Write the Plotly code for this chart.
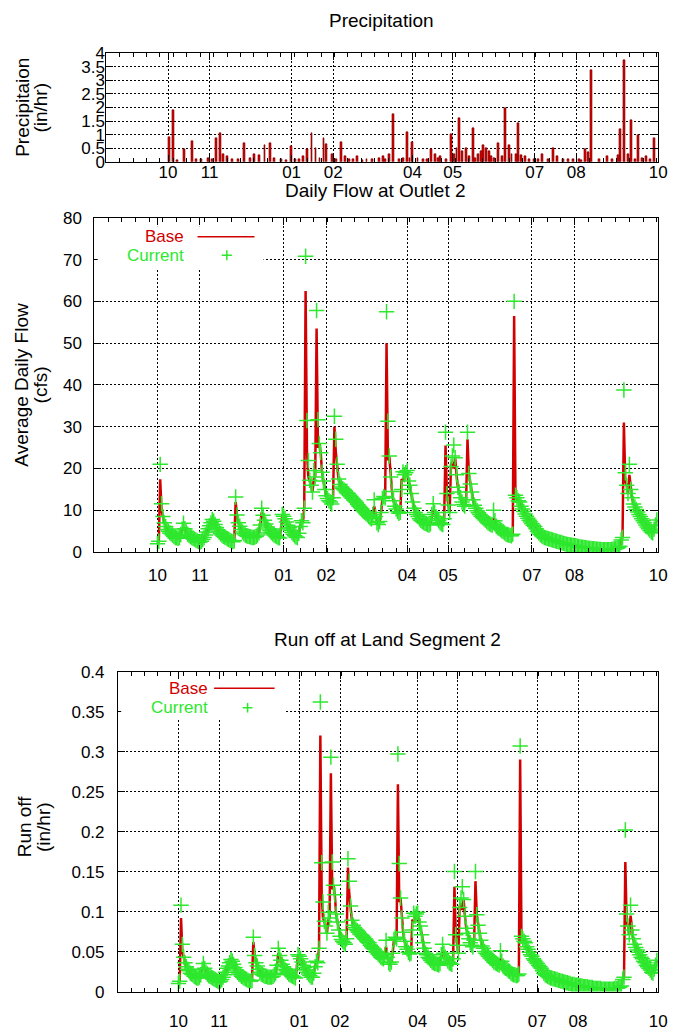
import pandas as pd
import plotly.graph_objects as go

# ---------------- data ----------------
start_date = "2004-10-01"          # first simulated day (daily values)
x_range = ["2004-08-16", "2005-10-01"]

tick_dates = ["2004-10-01", "2004-11-01", "2005-01-01", "2005-02-01", "2005-04-01",
              "2005-05-01", "2005-07-01", "2005-08-01", "2005-10-01"]
tick_text = ["10", "11", "01", "02", "04", "05", "07", "08", "10"]

precip_dates = ["2004-10-02", "2004-10-05", "2004-10-13", "2004-10-19", "2004-10-26", "2004-10-31",
                "2004-11-06", "2004-11-09", "2004-11-11", "2004-11-18", "2004-11-27", "2004-12-04",
                "2004-12-08", "2004-12-12", "2004-12-16", "2004-12-24", "2005-01-01", "2005-01-07",
                "2005-01-13", "2005-01-16", "2005-01-19", "2005-01-25", "2005-01-27", "2005-01-31",
                "2005-02-07", "2005-02-13", "2005-02-19", "2005-02-26", "2005-03-07", "2005-03-15",
                "2005-03-18", "2005-03-22", "2005-03-28", "2005-03-30", "2005-04-01", "2005-04-09",
                "2005-04-15", "2005-04-22", "2005-04-26", "2005-04-30", "2005-05-06", "2005-05-08",
                "2005-05-11", "2005-05-16", "2005-05-20", "2005-05-24", "2005-05-26", "2005-05-28",
                "2005-06-04", "2005-06-09", "2005-06-12", "2005-06-14", "2005-06-19", "2005-06-24",
                "2005-07-01", "2005-07-07", "2005-07-15", "2005-07-22", "2005-07-30", "2005-08-08",
                "2005-08-12", "2005-08-24", "2005-09-03", "2005-09-06", "2005-09-11", "2005-09-16",
                "2005-09-22", "2005-09-28",
                "2004-10-08", "2004-10-22", "2004-11-03", "2004-11-14", "2004-11-22", "2004-12-01",
                "2004-12-19", "2004-12-28", "2005-01-04", "2005-01-10", "2005-01-22", "2005-02-03",
                "2005-02-10", "2005-02-16", "2005-02-23", "2005-03-02", "2005-03-10", "2005-03-12",
                "2005-03-25", "2005-04-05", "2005-04-12", "2005-04-18", "2005-04-20", "2005-05-02",
                "2005-05-04", "2005-05-13", "2005-05-18", "2005-05-22", "2005-05-30", "2005-06-01",
                "2005-06-07", "2005-06-17", "2005-06-21", "2005-06-27", "2005-07-04", "2005-07-11",
                "2005-07-18", "2005-07-26", "2005-08-03", "2005-08-05", "2005-08-10", "2005-08-18",
                "2005-08-28", "2005-09-01", "2005-09-09", "2005-09-14", "2005-09-19", "2005-09-25"]
precip_vals = [0.9, 1.9, 0.46, 0.75, 0.1, 0.15,
               0.88, 1.05, 0.3, 0.1, 0.7, 0.3,
               0.25, 0.6, 0.7, 0.1, 0.58, 0.1,
               0.48, 1.05, 0.5, 0.88, 0.65, 0.3,
               0.72, 0.1, 0.2, 0.1, 0.15, 0.3,
               1.75, 0.1, 1.08, 0.15, 0.72, 0.1,
               0.48, 0.2, 0.1, 1.03, 1.62, 0.4,
               0.5, 1.24, 0.3, 0.6, 0.5, 0.4,
               0.7, 1.97, 0.6, 0.3, 1.44, 0.2,
               0.1, 0.3, 0.52, 0.1, 0.1, 0.45,
               3.38, 0.2, 1.2, 3.76, 1.54, 0.98,
               0.2, 0.88,
               0.05, 0.08, 0.1, 0.2, 0.08, 0.12,
               0.15, 0.05, 0.08, 0.2, 0.15, 0.1,
               0.2, 0.08, 0.05, 0.1, 0.2, 0.1,
               0.15, 0.15, 0.1, 0.3, 0.15, 0.3,
               0.5, 0.2, 0.15, 0.4, 0.2, 0.15,
               0.2, 0.3, 0.25, 0.1, 0.1, 0.1,
               0.2, 0.1, 0.1, 0.05, 0.35, 0.08,
               0.1, 0.25, 0.3, 0.1, 0.15, 0.1]

flow_current = [2.0, 2.6, 21, 11.6, 8.5, 7, 6.1, 5.4, 5, 4.6,
                4.4, 4.1, 3.8, 3.5, 3.4, 3.3, 3.5, 4.2, 5.5, 6.9,
                5.6, 4.8, 4.3, 4, 3.7, 3.5, 3.3, 3.1, 2.9, 2.7,
                2.5, 2.4, 2.6, 3, 3.5, 4.1, 4.8, 5.6, 6.3, 7,
                7.8, 7.4, 6.6, 5.9, 5.3, 4.8, 4.4, 4.1, 3.8, 3.6,
                3.4, 3.2, 3, 2.8, 2.6, 2.5, 2.7, 13.2, 8.9, 7,
                6.2, 5.4, 4.8, 4.4, 4.1, 3.9, 3.8, 3.7, 3.6, 3.5,
                3.5, 3.6, 3.8, 4.1, 4.6, 6.5, 10.5, 8.8, 7.6, 6.7,
                6, 5.5, 5.1, 4.7, 4.4, 4.1, 3.9, 3.7, 3.5, 3.4,
                5.5, 9, 8.6, 8, 7.2, 6.4, 5.8, 5.2, 4.7, 4.3,
                3.9, 3.6, 3.5, 4.5, 6.1, 7.5, 7, 10.5, 70.8, 31.5,
                21.9, 17.2, 16, 14.4, 19.5, 18, 57.8, 31.7, 26, 23.8,
                19.1, 17, 15, 13.5, 12.8, 12.3, 12, 11.5, 13, 32.5,
                27, 21, 17.5, 16.2, 15.6, 15.2, 14.9, 14.6, 14.2, 14,
                13.6, 13.3, 12.9, 12.6, 12.2, 11.9, 11.4, 11, 10.6, 10.3,
                9.9, 9.6, 9.2, 8.9, 8.5, 8.2, 8, 9, 12.5, 8.5,
                7, 6.6, 7.3, 9.5, 12.8, 13.3, 13, 57.5, 31.3, 23,
                18, 14.5, 12.3, 11, 10.3, 9.7, 9.3, 9.5, 15, 19.2,
                18.5, 19, 19.5, 17, 16, 14, 12, 10.5, 9.5, 9,
                8.5, 8, 7.6, 7.3, 7.1, 6.9, 6.8, 6.6, 6.5, 6.8,
                9, 11.6, 9.5, 8.5, 8, 7.5, 7, 6.8, 6.6, 8,
                28.7, 14, 11.3, 9.5, 20.5, 23, 25.6, 22.6, 18.5, 15.5,
                14.4, 13, 12, 11.4, 11, 12.5, 28.7, 18.8, 16.3, 14.4,
                12.5, 11.2, 10.5, 9.9, 9.4, 9, 8.6, 8.3, 8, 7.7,
                7.3, 7, 6.8, 6.6, 6.5, 10, 7.5, 6.2, 5.9, 5.7,
                5.4, 5.1, 4.9, 4.6, 4.3, 4.2, 4.1, 4, 3.9, 4.3,
                60, 13.6, 13, 12.3, 12, 11, 10.3, 9.7, 9.1, 8.6,
                8.1, 7.6, 7.2, 6.8, 6.4, 6.1, 5.6, 5, 4.6, 4.2,
                3.9, 3.7, 3.5, 3.4, 3.3, 3.2, 3.1, 3, 2.9, 2.8,
                2.7, 2.6, 2.5, 2.4, 2.3, 2.2, 2.1, 2, 1.9, 1.85,
                1.8, 1.7, 1.65, 1.6, 1.5, 1.45, 1.4, 1.3, 1.25, 1.2,
                1.15, 1.1, 1.05, 1, 0.95, 0.9, 0.85, 0.8, 0.8, 0.75,
                0.7, 0.7, 0.65, 0.65, 0.6, 0.6, 0.6, 0.6, 0.55, 0.6,
                0.6, 0.65, 0.7, 0.75, 0.8, 0.9, 1.1, 1.4, 2.9, 3.5,
                38.8, 19, 16, 14, 21, 15, 13, 11.5, 10.8, 10.2,
                9.6, 9, 8.5, 8, 7.5, 7, 6.5, 6, 5.6, 5.2,
                4.8, 4.6, 5.5, 6.5, 7.7]

flow_base = [2.0, 2.6, 17.4, 10, 8.5, 7, 6.1, 5.4, 5, 4.6,
             4.4, 4.1, 3.8, 3.5, 3.4, 3.3, 3.5, 4.2, 5.5, 5.8,
             5.6, 4.8, 4.3, 4, 3.7, 3.5, 3.3, 3.1, 2.9, 2.7,
             2.5, 2.4, 2.6, 3, 3.5, 4.1, 4.8, 5.6, 6.3, 7,
             7.8, 7.4, 6.6, 5.9, 5.3, 4.8, 4.4, 4.1, 3.8, 3.6,
             3.4, 3.2, 3, 2.8, 2.6, 2.5, 2.7, 12, 8.9, 7,
             6.2, 5.4, 4.8, 4.4, 4.1, 3.9, 3.8, 3.7, 3.6, 3.5,
             3.5, 3.6, 3.8, 4.1, 4.6, 6.5, 9.5, 8.8, 7.6, 6.7,
             6, 5.5, 5.1, 4.7, 4.4, 4.1, 3.9, 3.7, 3.5, 3.4,
             5.5, 9, 8.6, 8, 7.2, 6.4, 5.8, 5.2, 4.7, 4.3,
             3.9, 3.6, 3.5, 4.5, 6.1, 7.5, 7, 10.5, 62.5, 24,
             18, 17.2, 16, 14.4, 17.5, 18, 53.5, 25, 26, 23.8,
             19.1, 17, 15, 13.5, 12.8, 12.3, 12, 11.5, 13, 30,
             24, 21, 17.5, 16.2, 15.6, 15.2, 14.9, 14.6, 14.2, 14,
             13.6, 13.3, 12.9, 12.6, 12.2, 11.9, 11.4, 11, 10.6, 10.3,
             9.9, 9.6, 9.2, 8.9, 8.5, 8.2, 8, 9, 11, 8.5,
             7, 6.6, 7.3, 9.5, 12.8, 13.3, 13, 50, 22, 23,
             18, 14.5, 12.3, 11, 10.3, 9.7, 9.3, 9.5, 17.5, 17,
             18.5, 19, 19.5, 17, 16, 14, 12, 10.5, 9.5, 9,
             8.5, 8, 7.6, 7.3, 7.1, 6.9, 6.8, 6.6, 6.5, 6.8,
             9, 10, 9.5, 8.5, 8, 7.5, 7, 6.8, 6.6, 8,
             25.5, 14, 11.3, 9.5, 21, 21.5, 20, 22.6, 18.5, 15.5,
             14.4, 13, 12, 11.4, 11, 12.5, 27, 18.8, 16.3, 14.4,
             12.5, 11.2, 10.5, 9.9, 9.4, 9, 8.6, 8.3, 8, 7.7,
             7.3, 7, 6.8, 6.6, 6.5, 8, 7.5, 6.2, 5.9, 5.7,
             5.4, 5.1, 4.9, 4.6, 4.3, 4.2, 4.1, 4, 3.9, 4.3,
             56.5, 12, 13, 12.3, 12, 11, 10.3, 9.7, 9.1, 8.6,
             8.1, 7.6, 7.2, 6.8, 6.4, 6.1, 5.6, 5, 4.6, 4.2,
             3.9, 3.7, 3.5, 3.4, 3.3, 3.2, 3.1, 3, 2.9, 2.8,
             2.7, 2.6, 2.5, 2.4, 2.3, 2.2, 2.1, 2, 1.9, 1.85,
             1.8, 1.7, 1.65, 1.6, 1.5, 1.45, 1.4, 1.3, 1.25, 1.2,
             1.15, 1.1, 1.05, 1, 0.95, 0.9, 0.85, 0.8, 0.8, 0.75,
             0.7, 0.7, 0.65, 0.65, 0.6, 0.6, 0.6, 0.6, 0.55, 0.6,
             0.6, 0.65, 0.7, 0.75, 0.8, 0.9, 1.1, 1.4, 2.9, 3.5,
             31, 17, 16, 14, 18.5, 15, 13, 11.5, 10.8, 10.2,
             9.6, 9, 8.5, 8, 7.5, 7, 6.5, 6, 5.6, 5.2,
             4.8, 4.6, 5.5, 6.5, 7.7]

runoff_current = [0.010, 0.013, 0.108, 0.059, 0.043, 0.036, 0.031, 0.028, 0.026, 0.023,
                  0.022, 0.021, 0.019, 0.018, 0.017, 0.017, 0.018, 0.021, 0.028, 0.035,
                  0.029, 0.024, 0.022, 0.020, 0.019, 0.018, 0.017, 0.016, 0.015, 0.014,
                  0.013, 0.012, 0.013, 0.015, 0.018, 0.021, 0.024, 0.029, 0.032, 0.036,
                  0.040, 0.038, 0.034, 0.030, 0.027, 0.024, 0.022, 0.021, 0.019, 0.018,
                  0.017, 0.016, 0.015, 0.014, 0.013, 0.013, 0.014, 0.068, 0.045, 0.036,
                  0.032, 0.028, 0.024, 0.022, 0.021, 0.020, 0.019, 0.019, 0.018, 0.018,
                  0.018, 0.018, 0.019, 0.021, 0.023, 0.033, 0.054, 0.045, 0.039, 0.034,
                  0.031, 0.028, 0.026, 0.024, 0.022, 0.021, 0.020, 0.019, 0.018, 0.017,
                  0.028, 0.046, 0.044, 0.041, 0.037, 0.033, 0.030, 0.027, 0.024, 0.022,
                  0.020, 0.018, 0.018, 0.023, 0.031, 0.038, 0.036, 0.054, 0.362, 0.161,
                  0.112, 0.088, 0.082, 0.073, 0.099, 0.092, 0.293, 0.162, 0.133, 0.121,
                  0.097, 0.087, 0.077, 0.069, 0.065, 0.063, 0.061, 0.059, 0.066, 0.166,
                  0.138, 0.107, 0.089, 0.083, 0.080, 0.078, 0.076, 0.074, 0.072, 0.071,
                  0.069, 0.068, 0.066, 0.064, 0.062, 0.061, 0.058, 0.056, 0.054, 0.053,
                  0.050, 0.049, 0.047, 0.045, 0.043, 0.042, 0.041, 0.046, 0.064, 0.043,
                  0.036, 0.034, 0.037, 0.048, 0.065, 0.068, 0.066, 0.297, 0.160, 0.117,
                  0.092, 0.074, 0.063, 0.056, 0.053, 0.049, 0.047, 0.048, 0.077, 0.098,
                  0.094, 0.097, 0.099, 0.087, 0.082, 0.071, 0.061, 0.054, 0.048, 0.046,
                  0.043, 0.041, 0.039, 0.037, 0.036, 0.035, 0.035, 0.034, 0.033, 0.035,
                  0.046, 0.059, 0.048, 0.043, 0.041, 0.038, 0.036, 0.035, 0.034, 0.041,
                  0.150, 0.071, 0.058, 0.048, 0.105, 0.117, 0.131, 0.115, 0.094, 0.079,
                  0.073, 0.066, 0.061, 0.058, 0.056, 0.064, 0.150, 0.096, 0.083, 0.073,
                  0.064, 0.057, 0.054, 0.050, 0.048, 0.046, 0.044, 0.042, 0.041, 0.039,
                  0.037, 0.036, 0.035, 0.034, 0.033, 0.051, 0.038, 0.032, 0.030, 0.029,
                  0.028, 0.026, 0.025, 0.023, 0.022, 0.021, 0.021, 0.020, 0.020, 0.022,
                  0.307, 0.069, 0.066, 0.063, 0.061, 0.056, 0.053, 0.049, 0.046, 0.044,
                  0.041, 0.039, 0.037, 0.035, 0.033, 0.031, 0.029, 0.026, 0.023, 0.021,
                  0.020, 0.019, 0.018, 0.017, 0.017, 0.016, 0.016, 0.015, 0.015, 0.014,
                  0.014, 0.013, 0.013, 0.012, 0.012, 0.011, 0.011, 0.010, 0.010, 0.009,
                  0.009, 0.009, 0.008, 0.008, 0.008, 0.007, 0.007, 0.007, 0.006, 0.006,
                  0.006, 0.006, 0.005, 0.005, 0.005, 0.005, 0.004, 0.004, 0.004, 0.004,
                  0.004, 0.004, 0.003, 0.003, 0.003, 0.003, 0.003, 0.003, 0.003, 0.003,
                  0.003, 0.003, 0.004, 0.004, 0.004, 0.005, 0.006, 0.007, 0.015, 0.018,
                  0.202, 0.097, 0.082, 0.071, 0.108, 0.077, 0.066, 0.059, 0.055, 0.052,
                  0.049, 0.046, 0.043, 0.041, 0.038, 0.036, 0.033, 0.031, 0.029, 0.027,
                  0.024, 0.023, 0.028, 0.033, 0.039]

runoff_base = [0.010, 0.013, 0.092, 0.051, 0.043, 0.036, 0.031, 0.028, 0.026, 0.023,
               0.022, 0.021, 0.019, 0.018, 0.017, 0.017, 0.018, 0.021, 0.028, 0.030,
               0.029, 0.024, 0.022, 0.020, 0.019, 0.018, 0.017, 0.016, 0.015, 0.014,
               0.013, 0.012, 0.013, 0.015, 0.018, 0.021, 0.024, 0.029, 0.032, 0.036,
               0.040, 0.038, 0.034, 0.030, 0.027, 0.024, 0.022, 0.021, 0.019, 0.018,
               0.017, 0.016, 0.015, 0.014, 0.013, 0.013, 0.014, 0.062, 0.045, 0.036,
               0.032, 0.028, 0.024, 0.022, 0.021, 0.020, 0.019, 0.019, 0.018, 0.018,
               0.018, 0.018, 0.019, 0.021, 0.023, 0.033, 0.048, 0.045, 0.039, 0.034,
               0.031, 0.028, 0.026, 0.024, 0.022, 0.021, 0.020, 0.019, 0.018, 0.017,
               0.028, 0.046, 0.044, 0.041, 0.037, 0.033, 0.030, 0.027, 0.024, 0.022,
               0.020, 0.018, 0.018, 0.023, 0.031, 0.038, 0.036, 0.054, 0.320, 0.122,
               0.092, 0.088, 0.082, 0.073, 0.089, 0.092, 0.273, 0.128, 0.133, 0.121,
               0.097, 0.087, 0.077, 0.069, 0.065, 0.063, 0.061, 0.059, 0.066, 0.155,
               0.122, 0.107, 0.089, 0.083, 0.080, 0.078, 0.076, 0.074, 0.072, 0.071,
               0.069, 0.068, 0.066, 0.064, 0.062, 0.061, 0.058, 0.056, 0.054, 0.053,
               0.050, 0.049, 0.047, 0.045, 0.043, 0.042, 0.041, 0.046, 0.056, 0.043,
               0.036, 0.034, 0.037, 0.048, 0.065, 0.068, 0.066, 0.259, 0.112, 0.117,
               0.092, 0.074, 0.063, 0.056, 0.053, 0.049, 0.047, 0.048, 0.090, 0.087,
               0.094, 0.097, 0.099, 0.087, 0.082, 0.071, 0.061, 0.054, 0.048, 0.046,
               0.043, 0.041, 0.039, 0.037, 0.036, 0.035, 0.035, 0.034, 0.033, 0.035,
               0.046, 0.051, 0.048, 0.043, 0.041, 0.038, 0.036, 0.035, 0.034, 0.041,
               0.131, 0.071, 0.058, 0.048, 0.107, 0.110, 0.102, 0.115, 0.094, 0.079,
               0.073, 0.066, 0.061, 0.058, 0.056, 0.064, 0.138, 0.096, 0.083, 0.073,
               0.064, 0.057, 0.054, 0.050, 0.048, 0.046, 0.044, 0.042, 0.041, 0.039,
               0.037, 0.036, 0.035, 0.034, 0.033, 0.041, 0.038, 0.032, 0.030, 0.029,
               0.028, 0.026, 0.025, 0.023, 0.022, 0.021, 0.021, 0.020, 0.020, 0.022,
               0.290, 0.061, 0.066, 0.063, 0.061, 0.056, 0.053, 0.049, 0.046, 0.044,
               0.041, 0.039, 0.037, 0.035, 0.033, 0.031, 0.029, 0.026, 0.023, 0.021,
               0.020, 0.019, 0.018, 0.017, 0.017, 0.016, 0.016, 0.015, 0.015, 0.014,
               0.014, 0.013, 0.013, 0.012, 0.012, 0.011, 0.011, 0.010, 0.010, 0.009,
               0.009, 0.009, 0.008, 0.008, 0.008, 0.007, 0.007, 0.007, 0.006, 0.006,
               0.006, 0.006, 0.005, 0.005, 0.005, 0.005, 0.004, 0.004, 0.004, 0.004,
               0.004, 0.004, 0.003, 0.003, 0.003, 0.003, 0.003, 0.003, 0.003, 0.003,
               0.003, 0.003, 0.004, 0.004, 0.004, 0.005, 0.006, 0.007, 0.015, 0.018,
               0.162, 0.087, 0.082, 0.071, 0.095, 0.077, 0.066, 0.059, 0.055, 0.052,
               0.049, 0.046, 0.043, 0.041, 0.038, 0.036, 0.033, 0.031, 0.029, 0.027,
               0.024, 0.023, 0.028, 0.033, 0.039]

precip_yticks = [0, 0.5, 1, 1.5, 2, 2.5, 3, 3.5, 4]
precip_ytext = ["0", "0.5", "1", "1.5", "2", "2.5", "3", "3.5", "4"]
flow_yticks = [0, 10, 20, 30, 40, 50, 60, 70, 80]
flow_ytext = ["0", "10", "20", "30", "40", "50", "60", "70", "80"]
runoff_yticks = [0, 0.05, 0.1, 0.15, 0.2, 0.25, 0.3, 0.35, 0.4]
runoff_ytext = ["0", "0.05", "0.1", "0.15", "0.2", "0.25", "0.3", "0.35", "0.4"]

dates = pd.date_range(start_date, periods=len(flow_current), freq="D")

# ---------------- style ----------------
W, H = 681, 1032
FONT = "Liberation Sans, Arial, Helvetica, sans-serif"
RED = "rgb(210,0,0)"
GREEN = "rgb(45,232,45)"
DAY_MS = 86400000
TICK_SIZE = 17


def px_x(p):
    return p / W


def px_y(p):
    return 1 - p / H


def x_axis(dom, anchor, standoff):
    return dict(domain=dom, anchor=anchor, type="date", range=x_range,
                tickmode="array", tickvals=tick_dates, ticktext=tick_text,
                ticks="inside", ticklen=7, tickcolor="black", tickwidth=1,
                showline=True, linecolor="black", linewidth=1, mirror="ticks",
                showgrid=True, gridcolor="black", gridwidth=1, griddash="2px,2px",
                zeroline=False, ticklabelstandoff=standoff,
                tickfont=dict(family=FONT, size=TICK_SIZE, color="black"),
                minor=dict(ticks="inside", ticklen=4, tickcolor="black",
                           dtick=10 * DAY_MS, tick0="2004-08-16", showgrid=False))


def y_axis(dom, anchor, rng, vals, text, standoff):
    return dict(domain=dom, anchor=anchor, range=rng, tickmode="array",
                tickvals=vals, ticktext=text,
                ticks="inside", ticklen=7, tickcolor="black",
                showline=True, linecolor="black", linewidth=1, mirror="ticks",
                showgrid=True, gridcolor="black", gridwidth=1, griddash="2px,2px",
                zeroline=False, ticklabelstandoff=standoff,
                tickfont=dict(family=FONT, size=TICK_SIZE, color="black"))


fig = go.Figure()

fig.add_trace(go.Bar(x=precip_dates, y=precip_vals, xaxis="x", yaxis="y",
                     width=1.4 * DAY_MS,
                     marker=dict(color="rgb(220,0,0)", line=dict(color="rgb(110,0,0)", width=0.6)),
                     showlegend=False))

fig.add_trace(go.Scatter(x=dates, y=flow_base, xaxis="x2", yaxis="y2", mode="lines",
                         line=dict(color=RED, width=2.5), name="Base", showlegend=False))
fig.add_trace(go.Scatter(x=dates, y=flow_current, xaxis="x2", yaxis="y2", mode="markers",
                         marker=dict(symbol="cross-thin", size=11, line=dict(color=GREEN, width=1.5)),
                         name="Current", showlegend=False))

fig.add_trace(go.Scatter(x=dates, y=runoff_base, xaxis="x3", yaxis="y3", mode="lines",
                         line=dict(color=RED, width=2.5), name="Base", showlegend=False))
fig.add_trace(go.Scatter(x=dates, y=runoff_current, xaxis="x3", yaxis="y3", mode="markers",
                         marker=dict(symbol="cross-thin", size=11, line=dict(color=GREEN, width=1.5)),
                         name="Current", showlegend=False))

# panel geometry (pixels)
p_dom_x = [px_x(107.7), px_x(667)]
p_dom_y = [px_y(155.7), px_y(45)]
f_dom_x = [px_x(95.6), px_x(667)]
f_dom_y = [px_y(553.3), px_y(212.7)]
r_dom_x = [px_x(119.5), px_x(667)]
r_dom_y = [px_y(1001), px_y(675)]

fig.update_layout(
    width=W, height=H, margin=dict(l=0, r=0, t=0, b=0),
    paper_bgcolor="white", plot_bgcolor="white", showlegend=False, bargap=0,
    xaxis=x_axis(p_dom_x, "y", -5),
    yaxis=y_axis(p_dom_y, "x", [0, 4], precip_yticks, precip_ytext, -3),
    xaxis2=x_axis(f_dom_x, "y2", 7),
    yaxis2=y_axis(f_dom_y, "x2", [0, 80], flow_yticks, flow_ytext, 8),
    xaxis3=x_axis(r_dom_x, "y3", 14),
    yaxis3=y_axis(r_dom_y, "x3", [0, 0.4], runoff_yticks, runoff_ytext, 9),
)

ann = []


def text(x, y, s, size=19, color="black", angle=0, xanchor="center", yanchor="middle"):
    ann.append(dict(x=x, y=y, xref="paper", yref="paper", text=s, showarrow=False,
                    textangle=angle, xanchor=xanchor, yanchor=yanchor,
                    font=dict(family=FONT, size=size, color=color)))


# titles
text(px_x(387), px_y(12), "Precipitation")
text(px_x(381), px_y(185), "Daily Flow at Outlet 2")
text(px_x(393), px_y(642), "Run off at Land Segment 2")
# axis titles (two lines each)
text(px_x(22), px_y(100), "Precipitaion", angle=-90)
text(px_x(41), px_y(100), "(in/hr)", angle=-90)
text(px_x(22), px_y(383), "Average Daily Flow", angle=-90)
text(px_x(41), px_y(383), "(cfs)", angle=-90)
text(px_x(25), px_y(833), "Run off", angle=-90)
text(px_x(44), px_y(833), "(in/hr)", angle=-90)

shapes = []


def legend(xr, yr, box, base_xy, line_x, cur_xy, plus):
    shapes.append(dict(type="rect", xref=xr, yref=yr, x0=box[0], x1=box[1], y0=box[2], y1=box[3],
                       fillcolor="white", line=dict(width=0), layer="above"))
    ann.append(dict(x=base_xy[0], y=base_xy[1], xref=xr, yref=yr, text="Base", showarrow=False,
                    xanchor="right", yanchor="middle", font=dict(family=FONT, size=17, color=RED)))
    ann.append(dict(x=cur_xy[0], y=cur_xy[1], xref=xr, yref=yr, text="Current", showarrow=False,
                    xanchor="right", yanchor="middle", font=dict(family=FONT, size=17, color=GREEN)))
    shapes.append(dict(type="line", xref=xr, yref=yr, x0=line_x[0], x1=line_x[1],
                       y0=base_xy[1], y1=base_xy[1], line=dict(color=RED, width=1.5), layer="above"))
    shapes.append(dict(type="line", xref=xr, yref=yr, x0=plus[0], x1=plus[1],
                       y0=cur_xy[1], y1=cur_xy[1], line=dict(color=GREEN, width=1.5), layer="above"))
    shapes.append(dict(type="line", xref=xr, yref=yr, x0=plus[2], x1=plus[2],
                       y0=plus[3], y1=plus[4], line=dict(color=GREEN, width=1.5), layer="above"))


legend("x2 domain", "y2 domain", [0.006, 0.300, 0.845, 0.975],
       (0.162, 0.943), (0.183, 0.284), (0.162, 0.888),
       (0.226, 0.244, 0.235, 0.873, 0.903))
legend("x3 domain", "y3 domain", [0.006, 0.311, 0.850, 0.975],
       (0.171, 0.948), (0.178, 0.290), (0.171, 0.887),
       (0.231, 0.249, 0.240, 0.872, 0.902))

fig.update_layout(annotations=ann, shapes=shapes)

fig.write_html("out.html", config={"displayModeBar": False},
               post_script="document.body.style.margin='0';")
